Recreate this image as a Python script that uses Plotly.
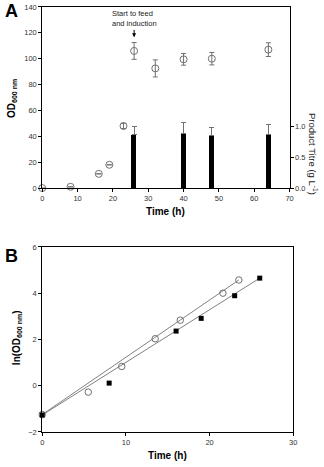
import plotly.graph_objects as go

W, H = 324, 467

# Panel A data
od_time = [0, 8, 16, 19, 23, 26, 32, 40, 48, 64]
od_val = [0, 1, 11, 18, 48, 106, 92.5, 99.5, 100, 107]
od_err = [0, 0, 0, 0, 2, 6.5, 6.6, 4.5, 4.8, 5.3]
titre_time = [26, 40, 48, 64]
titre_val = [0.87, 0.89, 0.85, 0.87]
titre_err = [0.13, 0.17, 0.13, 0.17]

# Panel B data
circ_time = [0, 5.5, 9.5, 13.5, 16.5, 21.6, 23.5]
circ_ln = [-1.25, -0.28, 0.83, 2.03, 2.83, 4.0, 4.57]
sq_time = [0, 8, 16, 19, 23, 26]
sq_ln = [-1.27, 0.11, 2.36, 2.91, 3.89, 4.65]
fit_circ_x = [0, 23.5]
fit_circ_y = [-1.25, 4.57]
fit_sq_x = [0, 26]
fit_sq_y = [-1.27, 4.65]

xA_ticks = [0, 10, 20, 30, 40, 50, 60, 70]
yA_ticks = [0, 20, 40, 60, 80, 100, 120, 140]
y2A_ticks = [0, 0.5, 1.0]
xB_ticks = [0, 10, 20, 30]
yB_ticks = [-2, 0, 2, 4, 6]

FONT = "Liberation Sans, Arial, sans-serif"
GREY = "#707070"

def px(x):
    return x / W

def py(y):
    return 1 - y / H

fig = go.Figure()

fig.add_trace(go.Bar(
    x=titre_time, y=titre_val, width=1.4, marker=dict(color="black", line=dict(width=0)),
    error_y=dict(type="data", array=titre_err, arrayminus=[0]*len(titre_err), symmetric=False,
                 color=GREY, thickness=1, width=2.5),
    xaxis="x", yaxis="y2", showlegend=False))

fig.add_trace(go.Scatter(
    x=od_time, y=od_val, mode="markers",
    marker=dict(symbol="circle-open", size=7, color="#707070", line=dict(width=1)),
    error_y=dict(type="data", array=od_err, color=GREY, thickness=1, width=2.5),
    xaxis="x", yaxis="y", showlegend=False, cliponaxis=False))

fig.add_trace(go.Scatter(x=fit_circ_x, y=fit_circ_y, mode="lines",
                         line=dict(color="#808080", width=1), xaxis="x2", yaxis="y3", showlegend=False))
fig.add_trace(go.Scatter(x=fit_sq_x, y=fit_sq_y, mode="lines",
                         line=dict(color="#808080", width=1), xaxis="x2", yaxis="y3", showlegend=False))
fig.add_trace(go.Scatter(x=circ_time, y=circ_ln, mode="markers",
                         marker=dict(symbol="circle-open", size=6.5, color="#707070", line=dict(width=1)),
                         xaxis="x2", yaxis="y3", showlegend=False, cliponaxis=False))
fig.add_trace(go.Scatter(x=sq_time, y=sq_ln, mode="markers",
                         marker=dict(symbol="square", size=5, color="black"),
                         xaxis="x2", yaxis="y3", showlegend=False, cliponaxis=False))

tickfont = dict(family=FONT, size=7.5, color="#333333")
axis_common = dict(showline=True, linecolor="black", linewidth=1, ticks="outside", ticklen=3,
                   tickcolor="black", tickwidth=1, showgrid=False, zeroline=False, tickfont=tickfont)

fig.update_layout(
    width=W, height=H, margin=dict(l=0, r=0, t=0, b=0), autosize=False,
    paper_bgcolor="white", plot_bgcolor="white", bargap=0,
    xaxis=dict(domain=[px(41), px(293)], range=[0, 70], tickvals=xA_ticks, anchor="y",
               mirror=True, **axis_common),
    yaxis=dict(domain=[py(187.7), py(3)], range=[0, 140], tickvals=yA_ticks, anchor="x",
               **axis_common),
    yaxis2=dict(domain=[py(187.7), py(3)], range=[0, 2.946], tickvals=y2A_ticks, tickformat=".1f",
                overlaying="y", side="right", anchor="x", **axis_common),
    xaxis2=dict(domain=[px(41), px(296.7)], range=[0, 30], tickvals=xB_ticks, anchor="y3",
                mirror=True, **axis_common),
    yaxis3=dict(domain=[py(436.3), py(247.7)], range=[-2, 6], tickvals=yB_ticks, anchor="x2",
                mirror=True, **axis_common),
)

def lab(text, x, y, size=10, angle=0, color="black", xanchor="center"):
    return dict(text=text, x=px(x), y=py(y), xref="paper", yref="paper", xanchor=xanchor,
                yanchor="middle", textangle=angle, showarrow=False,
                font=dict(family=FONT, size=size, color=color))

ann = [
    lab("<b>A</b>", 1, 7, size=18, xanchor="left"),
    lab("<b>B</b>", 1, 257, size=18, xanchor="left"),
    lab("<b>Time (h)</b>", 167, 212),
    lab("<b>Time (h)</b>", 169, 460),
    lab("<b>OD<sub>600 nm</sub></b>", 10, 96, angle=-90),
    lab("<b>ln(OD<sub>600 nm</sub>)</b>", 16, 340, angle=-90),
    lab("Product Titre (g L<sup>-1</sup>)", 317, 153, size=9.5, angle=90, color="#222222"),
]
ann.append(dict(text="Start to feed<br>and induction", x=26, y=py(15), xref="x", yref="paper",
                xanchor="center", yanchor="middle",
                showarrow=False, align="left", font=dict(family=FONT, size=7.5, color="#222222")))
ann.append(dict(text="", x=26, y=116.5, xref="x", yref="y", showarrow=True, ax=0, ay=-9,
                arrowhead=2, arrowsize=0.8, arrowwidth=1, arrowcolor="black"))
fig.update_layout(annotations=ann)

fig.write_html("out.html", config={"displayModeBar": False},
               post_script="document.body.style.margin='0';document.body.style.overflow='hidden';")
